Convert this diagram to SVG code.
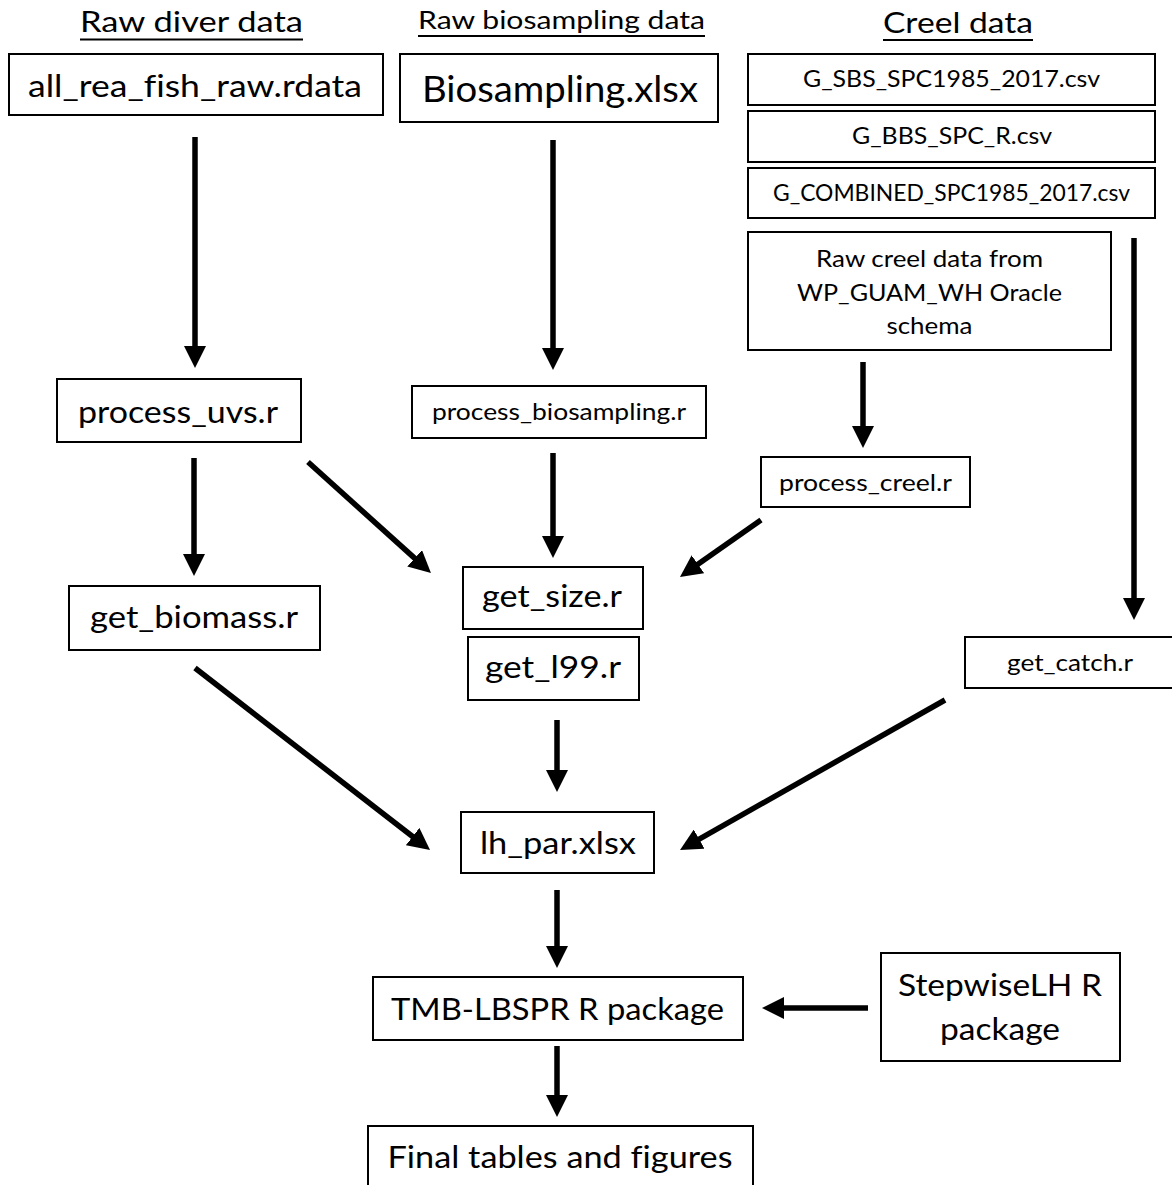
<svg xmlns="http://www.w3.org/2000/svg" width="1172" height="1185" viewBox="0 0 1172 1185">
<style>
text { font-family: Lato, "Open Sans", "Liberation Sans", sans-serif; fill: #000; text-anchor: middle; font-variant-ligatures: none; font-feature-settings: "liga" 0; }
.box { fill: #fff; stroke: #000; stroke-width: 2; }
.big { font-size: 30px; }
.sm { font-size: 22.5px; }
.hd { font-size: 28px; }
.arr { stroke: #000; stroke-width: 5.5; fill: none; marker-end: url(#ah); }
.ul { stroke: #000; stroke-width: 2; }
</style>
<defs>
<marker id="ah" markerUnits="userSpaceOnUse" markerWidth="22" markerHeight="22" viewBox="0 0 22 22" refX="4" refY="11" orient="auto">
<path d="M0,0 L22,11 L0,22 z" fill="#000"/>
</marker>
</defs>
<g id="headers">
<text class="hd" x="191.5" y="32" textLength="223" lengthAdjust="spacingAndGlyphs">Raw diver data</text>
<line class="ul" x1="80" y1="39.5" x2="303" y2="39.5"/>
<text class="hd" x="561.5" y="29" style="font-size:25px" textLength="287" lengthAdjust="spacingAndGlyphs">Raw biosampling data</text>
<line class="ul" x1="418" y1="36" x2="705" y2="36"/>
<text class="hd" x="958" y="33" textLength="150" lengthAdjust="spacingAndGlyphs">Creel data</text>
<line class="ul" x1="883" y1="40" x2="1033" y2="40"/>
</g>
<g id="connectors">
<line class="arr" x1="195" y1="137" x2="195" y2="350"/>
<line class="arr" x1="553" y1="140" x2="553" y2="352"/>
<line class="arr" x1="863" y1="362" x2="863" y2="430"/>
<line class="arr" x1="1134" y1="238" x2="1134" y2="602"/>
<line class="arr" x1="194" y1="458" x2="194" y2="558"/>
<line class="arr" x1="308" y1="462" x2="417.6" y2="560.9"/>
<line class="arr" x1="553" y1="453" x2="553" y2="540"/>
<line class="arr" x1="761" y1="520" x2="694.7" y2="566.6"/>
<line class="arr" x1="557" y1="720" x2="557" y2="774"/>
<line class="arr" x1="195" y1="668" x2="415.8" y2="839"/>
<line class="arr" x1="945" y1="700" x2="695.7" y2="841.1"/>
<line class="arr" x1="557" y1="890" x2="557" y2="950"/>
<line class="arr" x1="868" y1="1008" x2="780" y2="1008"/>
<line class="arr" x1="557" y1="1046" x2="557" y2="1099"/>
</g>
<g id="all_rea_fish_raw">
<rect class="box" x="9" y="54" width="374" height="61"/>
<text class="big" x="195" y="97" textLength="334" lengthAdjust="spacingAndGlyphs">all_rea_fish_raw.rdata</text>
</g>
<g id="biosampling_xlsx">
<rect class="box" x="400" y="54" width="318" height="68"/>
<text class="big" style="font-size:36px" x="560" y="102" textLength="276" lengthAdjust="spacingAndGlyphs">Biosampling.xlsx</text>
</g>
<g id="g_sbs">
<rect class="box" x="748" y="54" width="407" height="51"/>
<text class="sm" x="951.5" y="87" textLength="297" lengthAdjust="spacingAndGlyphs">G_SBS_SPC1985_2017.csv</text>
</g>
<g id="g_bbs">
<rect class="box" x="748" y="111" width="407" height="51"/>
<text class="sm" x="952" y="144" textLength="200" lengthAdjust="spacingAndGlyphs">G_BBS_SPC_R.csv</text>
</g>
<g id="g_combined">
<rect class="box" x="748" y="168" width="407" height="50"/>
<text class="sm" x="951.5" y="201" textLength="357" lengthAdjust="spacingAndGlyphs">G_COMBINED_SPC1985_2017.csv</text>
</g>
<g id="raw_creel">
<rect class="box" x="748" y="232" width="363" height="118"/>
<text class="sm" x="929.5" y="267" textLength="227" lengthAdjust="spacingAndGlyphs">Raw creel data from</text>
<text class="sm" x="929.5" y="301" textLength="265" lengthAdjust="spacingAndGlyphs">WP_GUAM_WH Oracle</text>
<text class="sm" x="929.5" y="334" textLength="86" lengthAdjust="spacingAndGlyphs">schema</text>
</g>
<g id="process_uvs">
<rect class="box" x="57" y="379" width="244" height="63"/>
<text class="big" x="178" y="423" textLength="200" lengthAdjust="spacingAndGlyphs">process_uvs.r</text>
</g>
<g id="process_biosampling">
<rect class="box" x="412" y="386" width="294" height="52"/>
<text class="sm" x="559" y="420" textLength="254" lengthAdjust="spacingAndGlyphs">process_biosampling.r</text>
</g>
<g id="process_creel">
<rect class="box" x="761" y="457" width="209" height="50"/>
<text class="sm" x="865.5" y="491" textLength="173" lengthAdjust="spacingAndGlyphs">process_creel.r</text>
</g>
<g id="get_biomass">
<rect class="box" x="69" y="586" width="251" height="64"/>
<text class="big" x="194" y="628" textLength="208" lengthAdjust="spacingAndGlyphs">get_biomass.r</text>
</g>
<g id="get_size">
<rect class="box" x="463" y="567" width="180" height="62"/>
<text class="big" x="552" y="607" textLength="140" lengthAdjust="spacingAndGlyphs">get_size.r</text>
</g>
<g id="get_l99">
<rect class="box" x="468" y="637" width="171" height="63"/>
<text class="big" x="553" y="678" textLength="136" lengthAdjust="spacingAndGlyphs">get_l99.r</text>
</g>
<g id="get_catch">
<rect class="box" x="965" y="637" width="212" height="51"/>
<text class="sm" x="1070" y="671" textLength="126" lengthAdjust="spacingAndGlyphs">get_catch.r</text>
</g>
<g id="lh_par">
<rect class="box" x="461" y="812" width="193" height="61"/>
<text class="big" x="558" y="854" textLength="156" lengthAdjust="spacingAndGlyphs">lh_par.xlsx</text>
</g>
<g id="tmb_lbspr">
<rect class="box" x="373" y="977" width="370" height="63"/>
<text class="big" x="557.5" y="1020" textLength="333" lengthAdjust="spacingAndGlyphs">TMB-LBSPR R package</text>
</g>
<g id="stepwiselh">
<rect class="box" x="881" y="953" width="239" height="108"/>
<text class="big" x="1000" y="996" textLength="204" lengthAdjust="spacingAndGlyphs">StepwiseLH R</text>
<text class="big" x="1000" y="1040" textLength="120" lengthAdjust="spacingAndGlyphs">package</text>
</g>
<g id="final">
<rect class="box" x="368" y="1126" width="385" height="80"/>
<text class="big" x="560" y="1168" textLength="345" lengthAdjust="spacingAndGlyphs">Final tables and figures</text>
</g>
</svg>
